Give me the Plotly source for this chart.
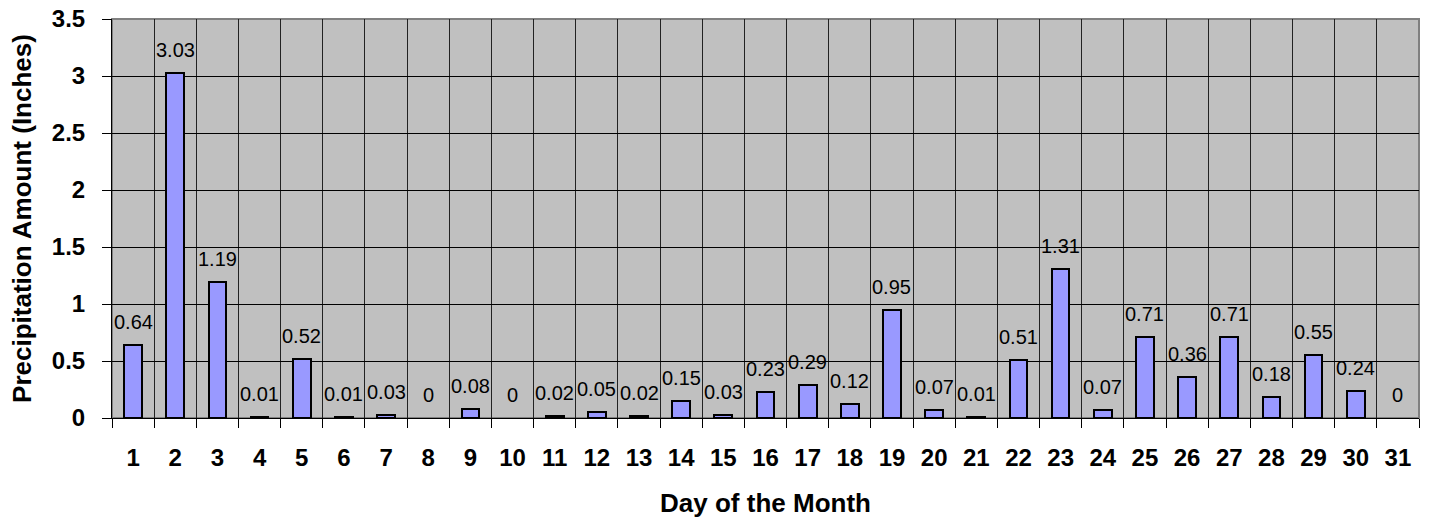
import plotly.graph_objects as go

days = list(range(1, 32))
day_labels = [str(d) for d in days]
precip = [0.64, 3.03, 1.19, 0.01, 0.52, 0.01, 0.03, 0, 0.08, 0, 0.02, 0.05, 0.02, 0.15,
          0.03, 0.23, 0.29, 0.12, 0.95, 0.07, 0.01, 0.51, 1.31, 0.07, 0.71, 0.36, 0.71,
          0.18, 0.55, 0.24, 0]
y_ticks = [0, 0.5, 1, 1.5, 2, 2.5, 3, 3.5]
y_tick_labels = ["0", "0.5", "1", "1.5", "2", "2.5", "3", "3.5"]

FONT = "Liberation Sans, Arial, sans-serif"

fig = go.Figure()
fig.add_trace(go.Bar(
    x=days, y=precip, width=0.42,
    marker=dict(color="#9999FF",
                line=dict(color="black", width=[2 if v > 0 else 0 for v in precip])),
    hoverinfo="x+y",
))

for d, v in zip(days, precip):
    fig.add_annotation(x=d, y=v, text=f"{v:g}", showarrow=False, yanchor="bottom",
                       yshift=10, font=dict(family=FONT, size=20, color="black"))

fig.update_layout(
    width=1430, height=527,
    margin=dict(l=112, r=11, t=19, b=109),
    paper_bgcolor="white", plot_bgcolor="#C0C0C0",
    showlegend=False,
    font=dict(family=FONT, color="black"),
    bargap=0,
)

fig.update_xaxes(
    range=[0.5, 31.5], tickmode="array", tickvals=days, ticktext=day_labels,
    ticks="", showgrid=False, zeroline=False, automargin=False,
    showline=True, linecolor="black", linewidth=1,
    tickfont=dict(family=FONT, size=24, color="black", weight="bold"),
    ticklabelstandoff=18, ticklabeloverflow="allow",
    minor=dict(tick0=0.5, dtick=1, ticks="outside", ticklen=9, tickcolor="black",
               showgrid=True, gridcolor="#222222", gridwidth=1),
    title=dict(text="<b>Day of the Month</b>", font=dict(family=FONT, size=26, color="black"),
               standoff=24),
)
fig.update_yaxes(
    range=[0, 3.5], tickmode="array", tickvals=y_ticks, ticktext=y_tick_labels,
    ticks="outside", ticklen=9, tickcolor="black",
    showgrid=True, gridcolor="black", gridwidth=1, zeroline=False, automargin=False,
    showline=True, linecolor="black", linewidth=1,
    tickfont=dict(family=FONT, size=24, color="black", weight="bold"),
    ticklabelstandoff=12, ticklabeloverflow="allow",
    title=dict(text="<b>Precipitation Amount (Inches)</b>", font=dict(family=FONT, size=26, color="black"),
               standoff=12),
)

fig.add_shape(type="rect", xref="paper", yref="paper", x0=0, y0=0, x1=1, y1=1,
              line=dict(color="#808080", width=2), layer="below")

# remove the browser's default 8px page margin so the figure fills the window
fig.write_html("out.html", config={"displayModeBar": False},
               post_script="document.body.style.margin='0';")
